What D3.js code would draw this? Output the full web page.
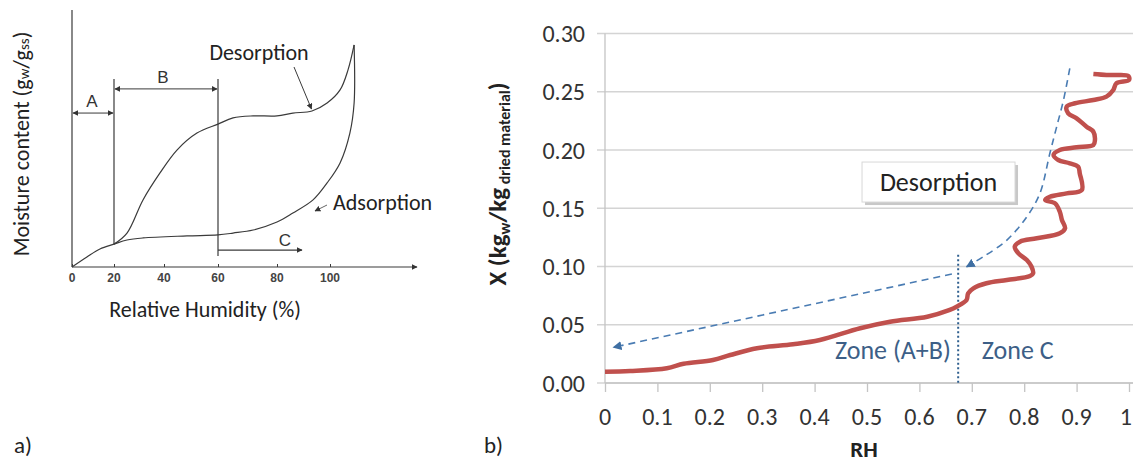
<!DOCTYPE html>
<html>
<head>
<meta charset="utf-8">
<script src="https://cdnjs.cloudflare.com/ajax/libs/d3/7.8.5/d3.min.js"></script>
<style>
  html, body { margin: 0; padding: 0; background: #fff; }
  svg { display: block; }
</style>
</head>
<body>
<script>
// ---------------- Panel a) schematic isotherm ----------------
const aTickValues = [0, 20, 40, 60, 80, 100];
const aTickLabels = ["0", "20", "40", "60", "80", "100"];
const aDesorptionRH = [20, 25.2, 31.6, 38.4, 44.8, 52.2, 60, 65.1, 71.9, 80, 86, 93.2, 98.9, 103.8, 106.8, 109.1];
const aDesorptionM  = [0.089, 0.132, 0.261, 0.366, 0.455, 0.521, 0.556, 0.580, 0.588, 0.588, 0.599, 0.607, 0.638, 0.689, 0.767, 0.864];
const aAdsorptionRH = [0, 7.1, 13.3, 20, 25.2, 31.6, 48.5, 60, 65.1, 71.9, 80, 86, 93.6, 98.9, 103.8, 107.5, 109.1, 109.1];
const aAdsorptionM  = [0, 0.039, 0.070, 0.089, 0.105, 0.113, 0.121, 0.125, 0.132, 0.144, 0.175, 0.210, 0.261, 0.327, 0.405, 0.521, 0.638, 0.864];
const aZoneBounds = [20, 60];

// ---------------- Panel b) measured desorption ----------------
const bXTicks = [0, 0.1, 0.2, 0.3, 0.4, 0.5, 0.6, 0.7, 0.8, 0.9, 1];
const bXTickLabels = ["0", "0.1", "0.2", "0.3", "0.4", "0.5", "0.6", "0.7", "0.8", "0.9", "1"];
const bYTicks = [0, 0.05, 0.10, 0.15, 0.20, 0.25, 0.30];
const bYTickLabels = ["0.00", "0.05", "0.10", "0.15", "0.20", "0.25", "0.30"];
const bRH = [0, 0.048, 0.118, 0.150, 0.206, 0.239, 0.290, 0.359, 0.410, 0.487, 0.544, 0.615, 0.658, 0.671, 0.690, 0.693, 0.703, 0.728, 0.767, 0.811, 0.817,
  0.814, 0.805, 0.789, 0.782, 0.792, 0.824, 0.868, 0.878, 0.872, 0.868, 0.859, 0.840, 0.849, 0.881, 0.910, 0.906, 0.903, 0.887, 0.865, 0.856, 0.868,
  0.900, 0.932, 0.935, 0.932, 0.919, 0.900, 0.884, 0.881, 0.897, 0.932, 0.957, 0.970, 0.976, 1.0, 0.999, 0.976, 0.957, 0.932];
const bX = [0.0097, 0.0103, 0.0126, 0.0165, 0.0197, 0.0240, 0.0298, 0.0332, 0.0369, 0.0470, 0.0526, 0.0569, 0.0627, 0.0655, 0.0712, 0.0770, 0.0813, 0.0856, 0.0884, 0.0918, 0.0942,
  0.0998, 0.1056, 0.1113, 0.1170, 0.1213, 0.1242, 0.1285, 0.1328, 0.1399, 0.1470, 0.1542, 0.1571, 0.1599, 0.1628, 0.1657, 0.1800, 0.1857, 0.1886, 0.1914, 0.1957, 0.2000,
  0.2023, 0.2043, 0.2086, 0.2157, 0.2200, 0.2272, 0.2315, 0.2372, 0.2401, 0.2429, 0.2458, 0.2515, 0.2573, 0.2601, 0.2635, 0.2644, 0.2644, 0.2652];
const bGuideCurveRH = [0.887, 0.875, 0.862, 0.849, 0.830, 0.805, 0.767, 0.722, 0.690];
const bGuideCurveX  = [0.2701, 0.2429, 0.2200, 0.1972, 0.1628, 0.1427, 0.1227, 0.1084, 0.0998];
const bGuideLineRH = [0.662, 0.016];
const bGuideLineX  = [0.0936, 0.0306];
const bZoneRH = 0.674;
const bZoneTop = 0.110;

const W = 1133, H = 465;
const svg = d3.select("body").append("svg").attr("width", W).attr("height", H);
const defs = svg.append("defs");

function marker(id, color, size) {
  defs.append("marker").attr("id", id)
    .attr("viewBox", "0 0 10 10").attr("refX", 9).attr("refY", 5)
    .attr("markerWidth", size).attr("markerHeight", size)
    .attr("markerUnits", "userSpaceOnUse")
    .attr("orient", "auto-start-reverse")
    .append("path").attr("d", "M0,0 L10,5 L0,10 Z").attr("fill", color);
}
marker("arrA", "#333", 6);
marker("arrB", "#3f6fa3", 9);

const fontA = "Carlito, Calibri, Lato, 'Noto Sans', sans-serif";
const ink = "#3a3a3a";

// ===== Panel a =====
const xa = d3.scaleLinear().domain(aTickValues).range([72, 114, 164, 218, 277, 330]);
const ya = d3.scaleLinear().domain([0, 1]).range([267, 10]);
const ga = svg.append("g");

ga.append("line").attr("x1", xa(0)).attr("x2", xa(0)).attr("y1", ya(0)).attr("y2", ya(1))
  .attr("stroke", ink).attr("stroke-width", 1.2);
ga.append("line").attr("x1", xa(0)).attr("x2", 417).attr("y1", ya(0)).attr("y2", ya(0))
  .attr("stroke", ink).attr("stroke-width", 1.2).attr("marker-end", "url(#arrA)");
const aAxis = d3.axisTop(xa).tickValues(aTickValues).tickSize(3).tickFormat("");
ga.append("g").attr("transform", `translate(0,${ya(0)})`).call(aAxis)
  .call(g => g.select(".domain").remove())
  .selectAll("line").attr("stroke", ink);
ga.selectAll(".atick").data(aTickValues).join("text")
  .attr("x", d => xa(d)).attr("y", 282).attr("text-anchor", "middle")
  .attr("font-family", "'Liberation Sans', Arial, sans-serif").attr("font-weight", "bold")
  .attr("font-size", 12).attr("fill", "#444").text((d, i) => aTickLabels[i]);

ga.append("line").attr("x1", xa(aZoneBounds[0])).attr("x2", xa(aZoneBounds[0]))
  .attr("y1", ya(0.732)).attr("y2", ya(0.089)).attr("stroke", ink).attr("stroke-width", 1.2);
ga.append("line").attr("x1", xa(aZoneBounds[1])).attr("x2", xa(aZoneBounds[1]))
  .attr("y1", ya(0.732)).attr("y2", ya(0.043)).attr("stroke", ink).attr("stroke-width", 1.2);

const lineA = d3.line().x(d => xa(d[0])).y(d => ya(d[1])).curve(d3.curveCatmullRom.alpha(0.5));
ga.append("path").attr("d", lineA(d3.zip(aDesorptionRH, aDesorptionM)))
  .attr("fill", "none").attr("stroke", ink).attr("stroke-width", 1.2);
ga.append("path").attr("d", lineA(d3.zip(aAdsorptionRH, aAdsorptionM)))
  .attr("fill", "none").attr("stroke", ink).attr("stroke-width", 1.2);

const yA = 0.599, yB = 0.693, yC = 0.066;
ga.append("line").attr("x1", xa(0) + 1).attr("x2", xa(20) - 1).attr("y1", ya(yA)).attr("y2", ya(yA))
  .attr("stroke", ink).attr("stroke-width", 1).attr("marker-start", "url(#arrA)").attr("marker-end", "url(#arrA)");
ga.append("line").attr("x1", xa(20) + 1).attr("x2", xa(60) - 1).attr("y1", ya(yB)).attr("y2", ya(yB))
  .attr("stroke", ink).attr("stroke-width", 1).attr("marker-start", "url(#arrA)").attr("marker-end", "url(#arrA)");
ga.append("line").attr("x1", xa(60)).attr("x2", 302).attr("y1", ya(yC)).attr("y2", ya(yC))
  .attr("stroke", ink).attr("stroke-width", 1.2).attr("marker-end", "url(#arrA)");

const lblA = { "font-family": "'Liberation Sans', Arial, sans-serif", "font-size": 17, fill: "#333", "text-anchor": "middle" };
function applyAttrs(sel, o) { Object.entries(o).forEach(([k, v]) => sel.attr(k, v)); return sel; }
applyAttrs(ga.append("text"), lblA).attr("x", 92).attr("y", 107).text("A");
applyAttrs(ga.append("text"), lblA).attr("x", 163).attr("y", 83).text("B");
applyAttrs(ga.append("text"), lblA).attr("x", 285).attr("y", 246).text("C");

ga.append("text").attr("x", 259).attr("y", 60).attr("text-anchor", "middle")
  .attr("font-family", fontA).attr("font-size", 22).attr("fill", "#222").text("Desorption");
ga.append("line").attr("x1", 294).attr("y1", 67).attr("x2", 311.5).attr("y2", 109)
  .attr("stroke", ink).attr("stroke-width", 1).attr("marker-end", "url(#arrA)");
ga.append("text").attr("x", 333).attr("y", 210).attr("text-anchor", "start")
  .attr("font-family", fontA).attr("font-size", 22).attr("fill", "#222").text("Adsorption");
ga.append("line").attr("x1", 327).attr("y1", 205).attr("x2", 315).attr("y2", 211)
  .attr("stroke", "#666").attr("stroke-width", 1).attr("marker-end", "url(#arrA)");

ga.append("text").attr("x", 205).attr("y", 317).attr("text-anchor", "middle")
  .attr("font-family", fontA).attr("font-size", 22).attr("fill", "#222").text("Relative Humidity (%)");
const yt = ga.append("text").attr("transform", "translate(29,144) rotate(-90)").attr("text-anchor", "middle")
  .attr("font-family", fontA).attr("font-size", 22).attr("fill", "#222");
yt.append("tspan").text("Moisture content (g");
yt.append("tspan").attr("font-size", 15).text("w");
yt.append("tspan").text("/g");
yt.append("tspan").attr("font-size", 15).text("ss");
yt.append("tspan").text(")");

ga.append("text").attr("x", 14).attr("y", 453).attr("font-family", fontA).attr("font-size", 23)
  .attr("fill", "#222").text("a)");

// ===== Panel b =====
const xb = d3.scaleLinear().domain([0, 1]).range([605, 1129]);
const yb = d3.scaleLinear().domain([0, 0.30]).range([383, 33.5]);
const gb = svg.append("g");
const fontB = fontA;

gb.append("g").selectAll("line").data(bYTicks).join("line")
  .attr("x1", xb(0) - 8).attr("x2", W).attr("y1", d => yb(d)).attr("y2", d => yb(d))
  .attr("stroke", "#d4d4d4").attr("stroke-width", 1.3);
gb.append("line").attr("x1", xb(0)).attr("x2", xb(0)).attr("y1", yb(0.30)).attr("y2", yb(0))
  .attr("stroke", "#c4c4c4").attr("stroke-width", 1.3);
const bxAxis = d3.axisBottom(xb).tickValues(bXTicks).tickSize(9).tickFormat("");
gb.append("g").attr("transform", `translate(0,${yb(0)})`).call(bxAxis)
  .call(g => g.select(".domain").attr("stroke", "#c4c4c4").attr("stroke-width", 1.3).attr("d", `M${xb(0)},0H${W}`))
  .selectAll("line").attr("stroke", "#c4c4c4").attr("stroke-width", 1.3);

gb.selectAll(".ytl").data(bYTicks).join("text")
  .attr("x", 585).attr("y", d => yb(d) + 8.5).attr("text-anchor", "end")
  .attr("font-family", fontB).attr("font-size", 24).attr("fill", "#333")
  .text((d, i) => bYTickLabels[i]);
gb.selectAll(".xtl").data(bXTicks).join("text")
  .attr("x", d => d === 1 ? W - 1 : xb(d)).attr("y", 425)
  .attr("text-anchor", d => d === 1 ? "end" : "middle")
  .attr("font-family", fontB).attr("font-size", 24).attr("fill", "#333")
  .text((d, i) => bXTickLabels[i]);

gb.append("text").attr("x", 864).attr("y", 457).attr("text-anchor", "middle")
  .attr("font-family", fontB).attr("font-size", 23).attr("font-weight", "bold").attr("fill", "#222").text("RH");

const ybt = gb.append("text").attr("transform", "translate(506,184) rotate(-90)").attr("text-anchor", "middle")
  .attr("font-family", fontB).attr("font-size", 25).attr("font-weight", "bold").attr("fill", "#222");
ybt.append("tspan").text("X (kg");
ybt.append("tspan").attr("font-size", 16).attr("dy", 4).text("w");
ybt.append("tspan").attr("dy", -4).text("/kg");
ybt.append("tspan").attr("font-size", 16).attr("dy", 4).text(" dried material");
ybt.append("tspan").attr("dy", -4).text(")");

gb.append("text").attr("x", 484).attr("y", 453).attr("font-family", fontA).attr("font-size", 23)
  .attr("fill", "#222").text("b)");

gb.append("line").attr("x1", xb(bZoneRH)).attr("x2", xb(bZoneRH)).attr("y1", yb(bZoneTop)).attr("y2", yb(0))
  .attr("stroke", "#2e5f8f").attr("stroke-width", 2).attr("stroke-dasharray", "2,2.5");

const lineB = d3.line().x(d => xb(d[0])).y(d => yb(d[1])).curve(d3.curveCatmullRom.alpha(0.5));
gb.append("path").attr("d", lineB(d3.zip(bRH, bX)))
  .attr("fill", "none").attr("stroke", "#c0504d").attr("stroke-width", 4.5)
  .attr("stroke-linejoin", "round").attr("stroke-linecap", "butt");

gb.append("path").attr("d", lineB(d3.zip(bGuideCurveRH, bGuideCurveX)))
  .attr("fill", "none").attr("stroke", "#4a7cb3").attr("stroke-width", 1.6)
  .attr("stroke-dasharray", "7,5").attr("marker-end", "url(#arrB)");
gb.append("line").attr("x1", xb(bGuideLineRH[0])).attr("y1", yb(bGuideLineX[0]))
  .attr("x2", xb(bGuideLineRH[1])).attr("y2", yb(bGuideLineX[1]))
  .attr("stroke", "#4a7cb3").attr("stroke-width", 1.6).attr("stroke-dasharray", "7,5")
  .attr("marker-end", "url(#arrB)");

gb.append("text").attr("x", xb(0.660)).attr("y", yb(0.0283) + 9).attr("text-anchor", "end")
  .attr("font-family", fontB).attr("font-size", 26).attr("fill", "#3d5f87").text("Zone (A+B)");
gb.append("text").attr("x", xb(0.719)).attr("y", yb(0.0283) + 9).attr("text-anchor", "start")
  .attr("font-family", fontB).attr("font-size", 26).attr("fill", "#3d5f87").text("Zone C");

const boxG = gb.append("g");
const bcx = xb(0.6365), bcy = yb(0.1725);
const bw = 153, bh = 40;
boxG.append("rect").attr("x", bcx - bw / 2 + 3).attr("y", bcy - bh / 2 + 3).attr("width", bw).attr("height", bh).attr("fill", "#c8c8c8");
boxG.append("rect").attr("x", bcx - bw / 2).attr("y", bcy - bh / 2).attr("width", bw).attr("height", bh)
  .attr("fill", "#fff").attr("stroke", "#d8d8d8").attr("stroke-width", 1);
boxG.append("text").attr("x", bcx).attr("y", bcy + 9).attr("text-anchor", "middle")
  .attr("font-family", fontB).attr("font-size", 26).attr("fill", "#222").text("Desorption");
</script>
</body>
</html>
